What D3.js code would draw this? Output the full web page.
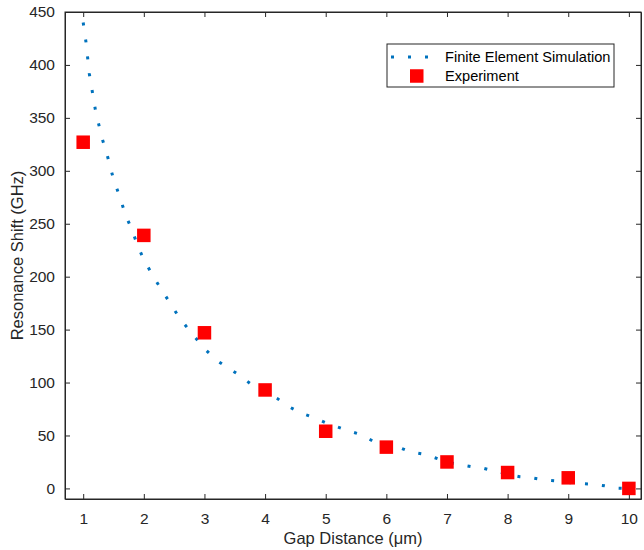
<!DOCTYPE html>
<html>
<head>
<meta charset="utf-8">
<script src="https://cdn.jsdelivr.net/npm/d3@7"></script>
<style>
  body { margin: 0; background: #fff; }
  svg { font-family: "Liberation Sans", Arial, Helvetica, sans-serif; }
  .axis text { fill: #262626; font-size: 15.5px; }
  .axis path, .axis line { stroke: #262626; }
</style>
</head>
<body>
<div id="chart"></div>
<script>
//DATA
const simX = [1.0, 1.05, 1.1, 1.2, 1.3, 1.4, 1.5, 1.6, 1.7, 1.8, 1.9, 2.0, 2.2, 2.4, 2.6, 2.8, 3.0, 3.2, 3.4, 3.6, 3.8, 4.0,
              4.2, 4.4, 4.6, 4.8, 5.0, 5.2, 5.4, 5.6, 5.8, 6.0, 6.2, 6.4, 6.6, 6.8, 7.0, 7.2, 7.4, 7.6, 7.8, 8.0,
              8.2, 8.4, 8.6, 8.8, 9.0, 9.2, 9.4, 9.6, 9.8, 10.0];
const simY = [440, 420, 392, 358, 333, 314, 292, 276, 258, 245, 229, 216, 196, 178, 160, 146, 132, 121, 113.5, 106, 97, 91,
              85, 77, 71, 67, 62, 58, 54, 50.5, 44, 41, 39, 34.5, 32.5, 29, 25, 22.5, 20.5, 19, 16, 13.5,
              11, 10, 8, 7, 5.5, 4.7, 4, 2.5, 0.3, 0];
const expX = [1, 2, 3, 4, 5, 6, 7, 8, 9, 10];
const expY = [327, 239, 147, 93, 54, 39, 25, 15, 10, 0];
const xTicks = [1, 2, 3, 4, 5, 6, 7, 8, 9, 10];
const yTicks = [0, 50, 100, 150, 200, 250, 300, 350, 400, 450];
const seriesNames = ['Finite Element Simulation', 'Experiment'];

const W = 644, H = 550;
const margin = { top: 12, right: 3, bottom: 51, left: 65 };
const width = W - margin.left - margin.right;
const height = H - margin.top - margin.bottom;

const svg = d3.select('#chart').append('svg').attr('width', W).attr('height', H);
const g = svg.append('g').attr('transform', 'translate(' + margin.left + ',' + margin.top + ')');

const x = d3.scaleLinear().domain([0.7, 10.2]).range([0, width]);
const y = d3.scaleLinear().domain([-10, 450]).range([height, 0]);

//AXES (ticks inward, box all round)
const tk = 5;
g.append('g').attr('class', 'axis').attr('transform', 'translate(0,' + height + ')')
  .call(d3.axisBottom(x).tickValues(xTicks).tickSizeInner(-tk).tickSizeOuter(0).tickPadding(14));
g.append('g').attr('class', 'axis')
  .call(d3.axisTop(x).tickValues(xTicks).tickSizeInner(-tk).tickSizeOuter(0).tickFormat(''));
g.append('g').attr('class', 'axis')
  .call(d3.axisLeft(y).tickValues(yTicks).tickSizeInner(-tk).tickSizeOuter(0).tickPadding(10));
g.append('g').attr('class', 'axis').attr('transform', 'translate(' + width + ',0)')
  .call(d3.axisRight(y).tickValues(yTicks).tickSizeInner(-tk).tickSizeOuter(0).tickFormat(''));
g.selectAll('.axis path').attr('stroke-width', 1);

g.append('rect').attr('width', width).attr('height', height)
  .attr('fill', 'none').attr('stroke', '#262626').attr('stroke-width', 1);

//SIMULATION (dotted line)
const line = d3.line().x((d, i) => x(simX[i])).y(d => y(d));
g.append('path').datum(simY)
  .attr('d', line)
  .attr('fill', 'none')
  .attr('stroke', '#0072BD')
  .attr('stroke-width', 3)
  .attr('stroke-dasharray', '3 14');

//EXPERIMENT (squares)
const s = 13.5;
g.selectAll('.exp').data(expY).enter().append('rect')
  .attr('class', 'exp')
  .attr('x', (d, i) => x(expX[i]) - s / 2)
  .attr('y', d => y(d) - s / 2)
  .attr('width', s).attr('height', s)
  .attr('fill', '#ff0000');

//LABELS
svg.append('text')
  .attr('x', margin.left + width / 2).attr('y', 544)
  .attr('text-anchor', 'middle').attr('font-size', 16.5).attr('fill', '#262626')
  .text('Gap Distance (\u03bcm)');
svg.append('text')
  .attr('transform', 'translate(23,' + (margin.top + height / 2) + ') rotate(-90)')
  .attr('text-anchor', 'middle').attr('font-size', 16.5).attr('fill', '#262626')
  .text('Resonance Shift (GHz)');

//LEGEND
const lg = svg.append('g').attr('transform', 'translate(387,44)');
lg.append('rect').attr('width', 227).attr('height', 43)
  .attr('fill', '#fff').attr('stroke', '#262626').attr('stroke-width', 1);
lg.append('line').attr('x1', 4).attr('x2', 46).attr('y1', 13).attr('y2', 13)
  .attr('stroke', '#0072BD').attr('stroke-width', 3).attr('stroke-dasharray', '3 14');
lg.append('rect').attr('x', 23).attr('y', 32 - s / 2).attr('width', s).attr('height', s).attr('fill', '#ff0000');
lg.selectAll('.lt').data(seriesNames).enter().append('text')
  .attr('class', 'lt')
  .attr('x', 58).attr('y', (d, i) => 13 + i * 19)
  .attr('dy', '0.35em').attr('font-size', 14.6).attr('fill', '#000')
  .text(d => d);
</script>
</body>
</html>
